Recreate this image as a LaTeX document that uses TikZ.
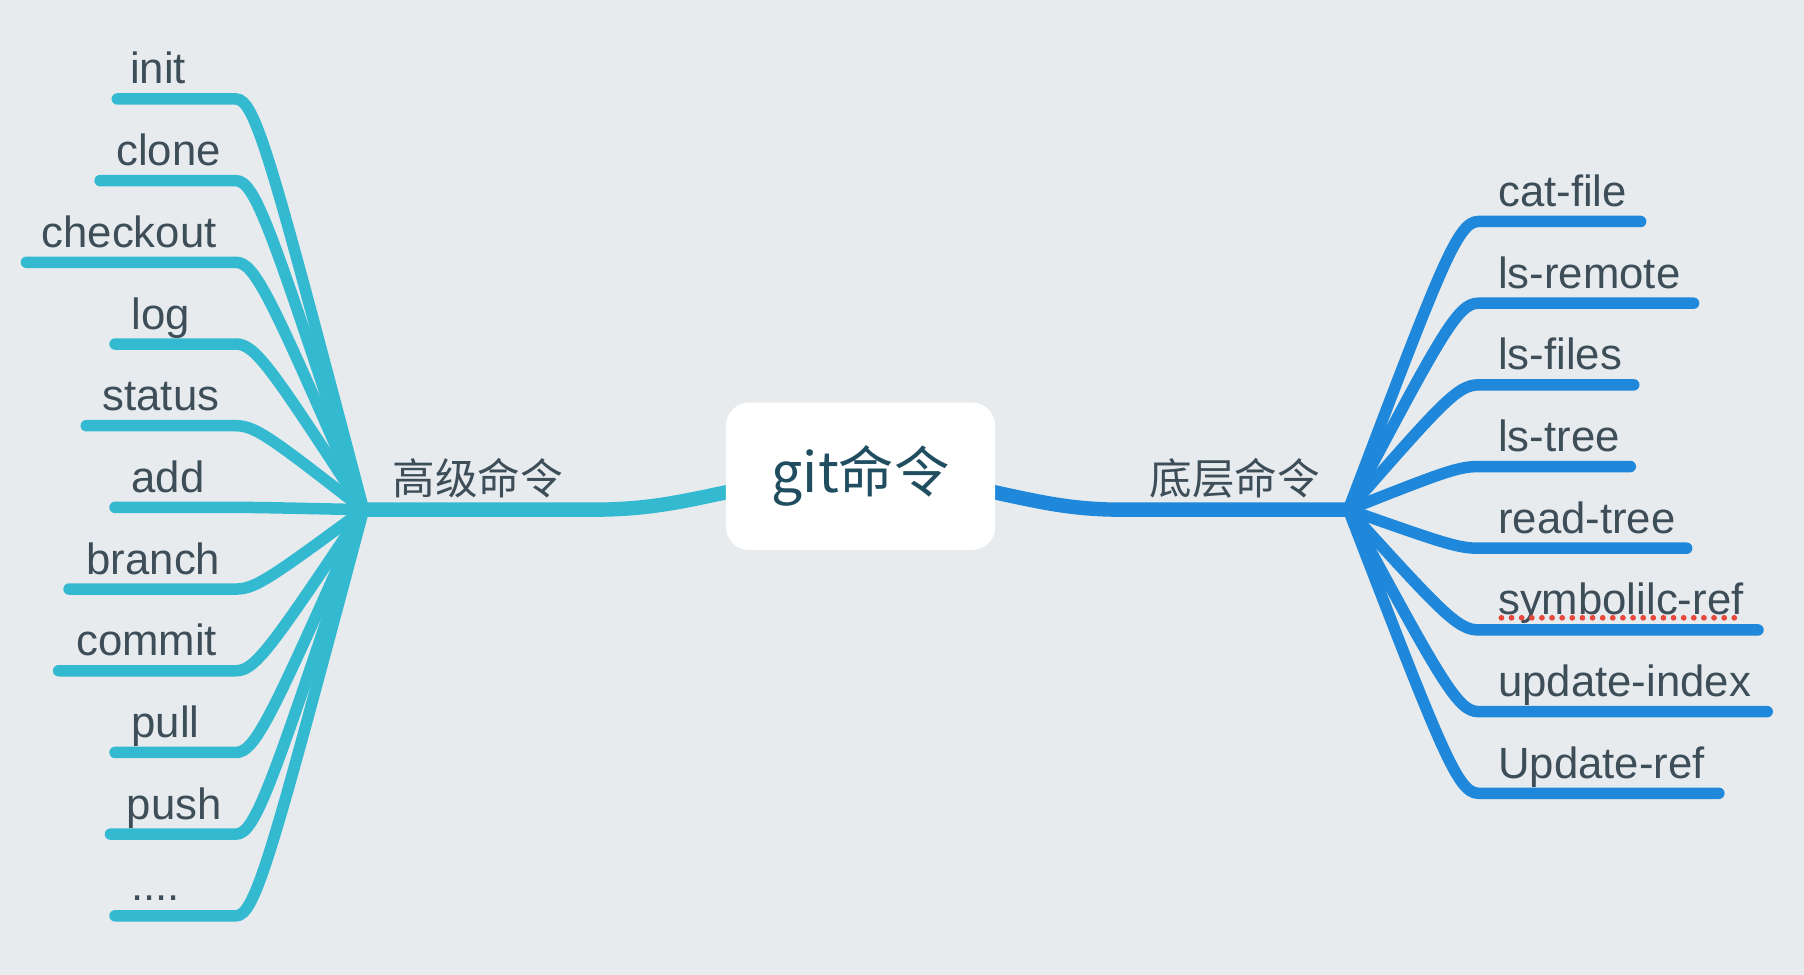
\documentclass[tikz,border=0pt]{standalone}
\usepackage{fontspec}
\setmainfont{Liberation Sans}
\newfontfamily\cjk{Noto Sans CJK SC}
\usetikzlibrary{calc}
\definecolor{bg}{RGB}{231,235,238}
\definecolor{lcol}{RGB}{51,186,208}
\definecolor{rcol}{RGB}{31,136,219}
\definecolor{txt}{RGB}{62,78,89}
\definecolor{ctxt}{RGB}{32,78,96}
\definecolor{spell}{RGB}{232,72,60}
\newcommand\myfourdots{.\kern0pt.\kern0pt.\kern0pt.}
\begin{document}
\begin{tikzpicture}[x=1pt,y=-1pt,
  leaf/.style={font=\fontsize{38}{40}\selectfont, text=txt, inner sep=0pt, anchor=base west},
  trunklabel/.style={font=\cjk\fontsize{37}{40}\selectfont, text=txt, inner sep=0pt, anchor=west},
  lbr/.style={draw=lcol, line width=10pt, line cap=round},
  rbr/.style={draw=rcol, line width=10pt, line cap=round},
  ltrunk/.style={draw=lcol, line width=12.5pt},
  rtrunk/.style={draw=rcol, line width=12.5pt},
  rootbox/.style={fill=white, rounded corners=20pt, minimum width=234pt, minimum height=128pt,
    inner sep=0pt, font=\cjk\fontsize{48}{50}\selectfont, text=ctxt}]
\fill[bg] (0,0) rectangle (1568,847);
\useasboundingbox (0,0) rectangle (1568,847);
\coordinate (LH) at (316,443);
\coordinate (RH) at (1172,443);
% left leaves
\foreach \y/\xs/\xt/\t [count=\i] in {86/102/113/init, 157/87/101/clone, 228/23/36/checkout,
  299/100/114/log, 370/75/89/status, 441/100/114/add, 512/60/75/branch, 583/51/66/commit,
  654/100/114/pull, 725/96/110/push, 796/100/114/\myfourdots}{
  \coordinate (Ls\i) at (\xs,\y);
  \coordinate (Le\i) at (205,\y);
  \coordinate (Lc\i) at (222,\y);
  \node[leaf] (Lt\i) at (\xt,\y-13) {\t};
  \draw[lbr] (Ls\i) -- (Le\i) .. controls (Lc\i) and ($(Lc\i)!0.15!(LH)$) .. (LH);
}
% right leaves
\foreach \y/\xe/\t [count=\i] in {192.5/1426/cat-file, 263.5/1472/ls-remote, 334.5/1420/ls-files,
  405.5/1417/ls-tree, 476.5/1466/read-tree, 547.5/1528/symbolilc-ref, 618.5/1536/update-index,
  689.5/1494/Update-ref}{
  \coordinate (Re\i) at (\xe,\y);
  \coordinate (Rs\i) at (1285,\y);
  \coordinate (Rc\i) at (1267,\y);
  \node[leaf] (Rt\i) at (1302,\y-13) {\t};
  \draw[rbr] (Re\i) -- (Rs\i) .. controls (Rc\i) and ($(Rc\i)!0.15!(RH)$) .. (RH);
}
% spell-check underline
\coordinate (sp1) at (1305,537);
\coordinate (sp2) at (1516,537);
\draw[spell, line width=5pt, line cap=round, dash pattern=on 0pt off 8.8pt] (sp1) -- (sp2);
% trunks
\coordinate (Lk) at (515,443);
\coordinate (Lb) at (650,424);
\coordinate (Rb) at (846,424);
\coordinate (Rk) at (975,443);
\draw[ltrunk] (LH) -- (Lk) .. controls (570,443) and (600,434) .. (Lb);
\draw[rtrunk] (Rb) .. controls (895,434) and (925,443) .. (Rk) -- (RH);
% root
\node[rootbox] (root) at (748,414) {git命令};
\node[trunklabel] (hl) at (341,416) {高级命令};
\node[trunklabel] (dl) at (999,416) {底层命令};
\end{tikzpicture}
\end{document}
